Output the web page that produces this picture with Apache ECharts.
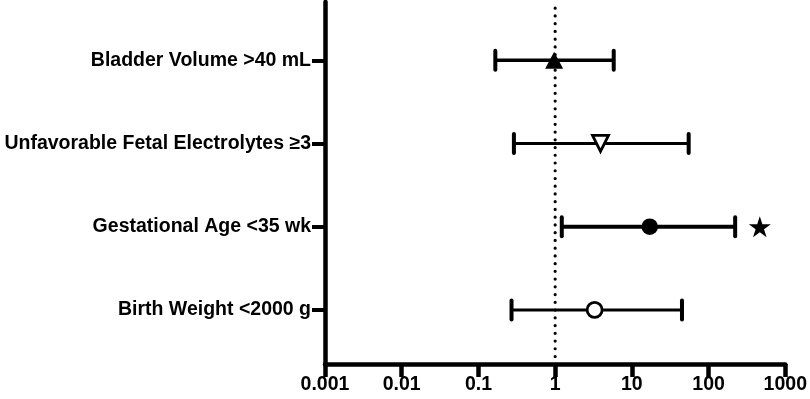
<!DOCTYPE html>
<html>
<head>
<meta charset="utf-8">
<script src="https://cdn.jsdelivr.net/npm/echarts@6/dist/echarts.min.js"></script>
<style>
html,body{margin:0;padding:0;background:#fff;}
#chart{width:810px;height:399px;}
</style>
</head>
<body>
<div id="chart"></div>
<script>
// Categories, top to bottom
const categories = ['Bladder Volume >40 mL', 'Unfavorable Fetal Electrolytes \u22653', 'Gestational Age <35 wk', 'Birth Weight <2000 g'];
// Odds ratio estimates and 95% CI (log scale)
const estimates = [0.97, 3.9, 17.1, 3.27];
const lowerCI   = [0.166, 0.29, 1.22, 0.27];
const upperCI   = [5.8, 55, 222, 45];
// Significance star (Gestational Age) position
const starCategory = 'Gestational Age <35 wk';
const starValue = 465;
// Reference line at OR = 1
const refValue = 1;
const xTicks = [0.001, 0.01, 0.1, 1, 10, 100, 1000];

const n = categories.length;
const yOf = i => n - i; // top category -> 4, bottom -> 1
const yPos = categories.map((c, i) => yOf(i));

const barWidths = [3.5, 3, 4, 3];
const markers = [
  {symbol: 'triangle', size: [18, 17], fill: '#000', border: 0},
  {symbol: 'path://M0,0 L10,0 L5,10 Z', size: [16, 16], fill: '#fff', border: 2.8},
  {symbol: 'circle', size: 16.5, fill: '#000', border: 0},
  {symbol: 'circle', size: 15, fill: '#fff', border: 2.8}
];

const ciData = categories.map((c, i) => [lowerCI[i], upperCI[i], yPos[i], barWidths[i]]);

const series = [];
series.push({
  type: 'line',
  data: [[refValue, 0.44], [refValue, 4.67]],
  symbol: 'none',
  lineStyle: {color: '#000', width: 3.2, type: [0.01, 7.73], cap: 'round'},
  silent: true,
  z: 1
});
series.push({
  type: 'custom',
  data: ciData,
  encode: {x: [0, 1], y: 2},
  renderItem: function (params, api) {
    const a = api.coord([api.value(0), api.value(2)]);
    const b = api.coord([api.value(1), api.value(2)]);
    const w = api.value(3);
    const h = 9.5;
    const style = {stroke: '#000', lineWidth: w, fill: null};
    return {
      type: 'group',
      children: [
        {type: 'line', shape: {x1: a[0], y1: a[1], x2: b[0], y2: b[1]}, style: style},
        {type: 'line', shape: {x1: a[0], y1: a[1] - h, x2: a[0], y2: a[1] + h}, style: {stroke: '#000', lineWidth: 4, lineCap: 'round'}},
        {type: 'line', shape: {x1: b[0], y1: b[1] - h, x2: b[0], y2: b[1] + h}, style: {stroke: '#000', lineWidth: 4, lineCap: 'round'}}
      ]
    };
  },
  z: 2
});
categories.forEach((c, i) => {
  const m = markers[i];
  series.push({
    type: 'scatter',
    data: [[estimates[i], yPos[i]]],
    symbol: m.symbol,
    symbolSize: m.size,
    itemStyle: {color: m.fill, borderColor: '#000', borderWidth: m.border, opacity: 1},
    z: 3
  });
});
series.push({
  type: 'scatter',
  data: [[starValue, yOf(categories.indexOf(starCategory))]],
  symbol: 'path://M50,0 L61.2,34.5 L97.6,34.5 L68.2,55.9 L79.4,90.5 L50,69.1 L20.6,90.5 L31.8,55.9 L2.4,34.5 L38.8,34.5 Z',
  symbolSize: [22, 21],
  itemStyle: {color: '#000', opacity: 1},
  z: 3
});

const font = {fontFamily: '"Liberation Sans", Arial, sans-serif', fontWeight: 'bold', fontSize: 19.5, color: '#000'};

const chart = echarts.init(document.getElementById('chart'), null, {renderer: 'canvas'});
chart.setOption({
  animation: false,
  backgroundColor: '#fff',
  grid: {left: 325, right: 23, top: 2, bottom: 35, containLabel: false},
  xAxis: {
    type: 'log',
    logBase: 10,
    min: xTicks[0],
    max: xTicks[xTicks.length - 1],
    axisLine: {show: true, lineStyle: {color: '#000', width: 4.5}},
    axisTick: {show: true, length: 13, lineStyle: {color: '#000', width: 4.5}},
    splitLine: {show: false},
    minorTick: {show: false},
    axisLabel: Object.assign({margin: 11, formatter: v => String(+v.toPrecision(6))}, font)
  },
  yAxis: {
    type: 'value',
    min: 0.35,
    max: 4.7,
    axisLine: {show: true, lineStyle: {color: '#000', width: 4.5}},
    axisTick: {show: true, length: 13, customValues: yPos, lineStyle: {color: '#000', width: 4}},
    splitLine: {show: false},
    axisLabel: Object.assign({
      margin: 14,
      customValues: yPos,
      formatter: v => categories[n - Math.round(v)] || ''
    }, font)
  },
  series: series
});
</script>
</body>
</html>
